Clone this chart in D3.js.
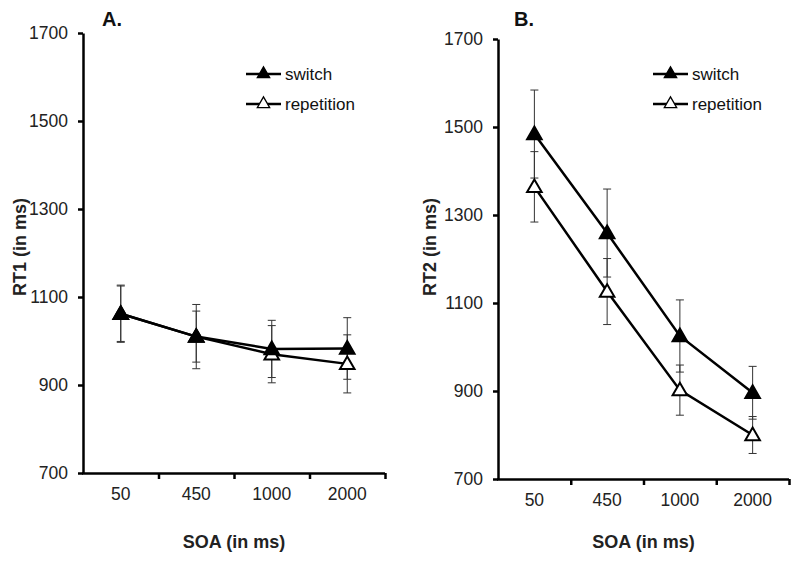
<!DOCTYPE html>
<html>
<head>
<meta charset="utf-8">
<script src="https://cdn.jsdelivr.net/npm/d3@7"></script>
<style>
  body { margin: 0; background: #fff; }
  svg { display: block; font-family: "Liberation Sans", Arial, sans-serif; }
  .axis-title { font-size: 18px; font-weight: bold; fill: #222; }
  .panel-label { font-size: 20px; font-weight: bold; fill: #111; }
  .legend-text { font-size: 17px; fill: #111; }
</style>
</head>
<body>
<svg id="chart" width="800" height="563"></svg>
<script>
const soaLabels = ['50', '450', '1000', '2000'];
const yTicks = [700, 900, 1100, 1300, 1500, 1700];
const seriesNames = ['switch', 'repetition'];

// Panel A: RT1
const rt1Switch = [1062, 1010, 982, 983];
const rt1SwitchErr = [65, 73, 65, 70];
const rt1Repetition = [1062, 1010, 970, 948];
const rt1RepetitionErr = [63, 58, 65, 66];

// Panel B: RT2
const rt2Switch = [1484, 1259, 1025, 896];
const rt2SwitchErr = [100, 100, 82, 60];
const rt2Repetition = [1364, 1126, 902, 800];
const rt2RepetitionErr = [80, 75, 57, 42];

const svg = d3.select('#chart');

const panels = [
  {
    label: 'A.', yTitle: 'RT1 (in ms)',
    left: 83, right: 385, top: 33, bottom: 473,
    series: [
      { name: seriesNames[0], values: rt1Switch, err: rt1SwitchErr, filled: true },
      { name: seriesNames[1], values: rt1Repetition, err: rt1RepetitionErr, filled: false },
    ],
    labelPos: [102, 26], yTitleX: 20, legendX: 246, legendY: 74,
  },
  {
    label: 'B.', yTitle: 'RT2 (in ms)',
    left: 498, right: 789, top: 39, bottom: 479,
    series: [
      { name: seriesNames[0], values: rt2Switch, err: rt2SwitchErr, filled: true },
      { name: seriesNames[1], values: rt2Repetition, err: rt2RepetitionErr, filled: false },
    ],
    labelPos: [514, 26], yTitleX: 430, legendX: 653, legendY: 74,
  },
];

const triangle = d3.symbol().type(d3.symbolTriangle).size(92);

function styleTickText(sel) {
  sel.attr('font-family', '"Liberation Sans", Arial, sans-serif').attr('font-size', 17.5);
  sel.selectAll('.tick text').attr('fill', '#222');
}

function drawPanel(p) {
  const g = svg.append('g');
  const x = d3.scaleBand().domain(soaLabels).range([p.left, p.right]).paddingInner(0).paddingOuter(0);
  const xEdges = d3.scaleLinear().domain([0, soaLabels.length]).range([p.left, p.right]);
  const y = d3.scaleLinear().domain([700, 1700]).range([p.bottom, p.top]);
  const cx = (i) => x(soaLabels[i]) + x.bandwidth() / 2;

  // y axis
  const yAxisG = g.append('g').attr('transform', `translate(${p.left},0)`)
    .call(d3.axisLeft(y).tickValues(yTicks).tickFormat(d3.format('d')).tickSizeInner(5).tickSizeOuter(0).tickPadding(10));
  yAxisG.selectAll('.domain, .tick line').attr('stroke', '#000').attr('stroke-width', 2.5);
  styleTickText(yAxisG);

  // x axis: boundary ticks
  const xTickG = g.append('g').attr('transform', `translate(0,${p.bottom})`)
    .call(d3.axisBottom(xEdges).tickValues(d3.range(1, soaLabels.length + 1)).tickFormat('').tickSizeInner(6).tickSizeOuter(0));
  xTickG.selectAll('.domain, .tick line').attr('stroke', '#000').attr('stroke-width', 2.5);
  xTickG.select('.domain').attr('d', `M${p.left - 1},0.5H${p.right}`);

  // x axis labels
  const xLabelG = g.append('g').attr('transform', `translate(0,${p.bottom})`)
    .call(d3.axisBottom(x).tickSize(0).tickPadding(15));
  xLabelG.select('.domain').remove();
  styleTickText(xLabelG);

  g.append('text').attr('class', 'axis-title').attr('text-anchor', 'middle')
    .attr('x', (p.left + p.right) / 2).attr('y', 548).text('SOA (in ms)');
  g.append('text').attr('class', 'axis-title').attr('text-anchor', 'middle')
    .attr('transform', `translate(${p.yTitleX},247) rotate(-90)`)
    .attr('dy', '0.35em')
    .text(p.yTitle);
  g.append('text').attr('class', 'panel-label').attr('x', p.labelPos[0]).attr('y', p.labelPos[1]).text(p.label);

  const line = d3.line().x((d, i) => cx(i)).y((d) => y(d));

  // error bars
  p.series.forEach((s) => {
    const eb = g.append('g').attr('stroke', '#333').attr('stroke-width', 1);
    s.values.forEach((v, i) => {
      const hi = y(v + s.err[i]);
      const lo = y(v - s.err[i]);
      eb.append('line').attr('x1', cx(i)).attr('x2', cx(i)).attr('y1', hi).attr('y2', lo);
      eb.append('line').attr('x1', cx(i) - 4).attr('x2', cx(i) + 4).attr('y1', hi).attr('y2', hi);
      eb.append('line').attr('x1', cx(i) - 4).attr('x2', cx(i) + 4).attr('y1', lo).attr('y2', lo);
    });
  });

  // lines and markers
  p.series.forEach((s) => {
    g.append('path').datum(s.values).attr('d', line)
      .attr('fill', 'none').attr('stroke', '#000').attr('stroke-width', 2.5);
  });
  p.series.slice().reverse().forEach((s) => {
    g.selectAll(null).data(s.values).enter().append('path')
      .attr('d', triangle)
      .attr('transform', (d, i) => `translate(${cx(i)},${y(d) + 1})`)
      .attr('fill', s.filled ? '#000' : '#fff')
      .attr('stroke', '#000').attr('stroke-width', 2);
  });

  // legend
  p.series.forEach((s, k) => {
    const ly = p.legendY + k * 30;
    const lg = g.append('g');
    lg.append('line').attr('x1', p.legendX).attr('x2', p.legendX + 35).attr('y1', ly).attr('y2', ly)
      .attr('stroke', '#000').attr('stroke-width', 2.5);
    lg.append('path').attr('d', triangle)
      .attr('fill', s.filled ? '#000' : '#fff').attr('stroke', '#000').attr('stroke-width', 1.5)
      .attr('transform', `translate(${p.legendX + 17.5},${ly}) scale(0.85)`);
    lg.append('text').attr('class', 'legend-text').attr('x', p.legendX + 39).attr('y', ly)
      .attr('dy', '0.35em').text(s.name);
  });
}

panels.forEach(drawPanel);
</script>
</body>
</html>
